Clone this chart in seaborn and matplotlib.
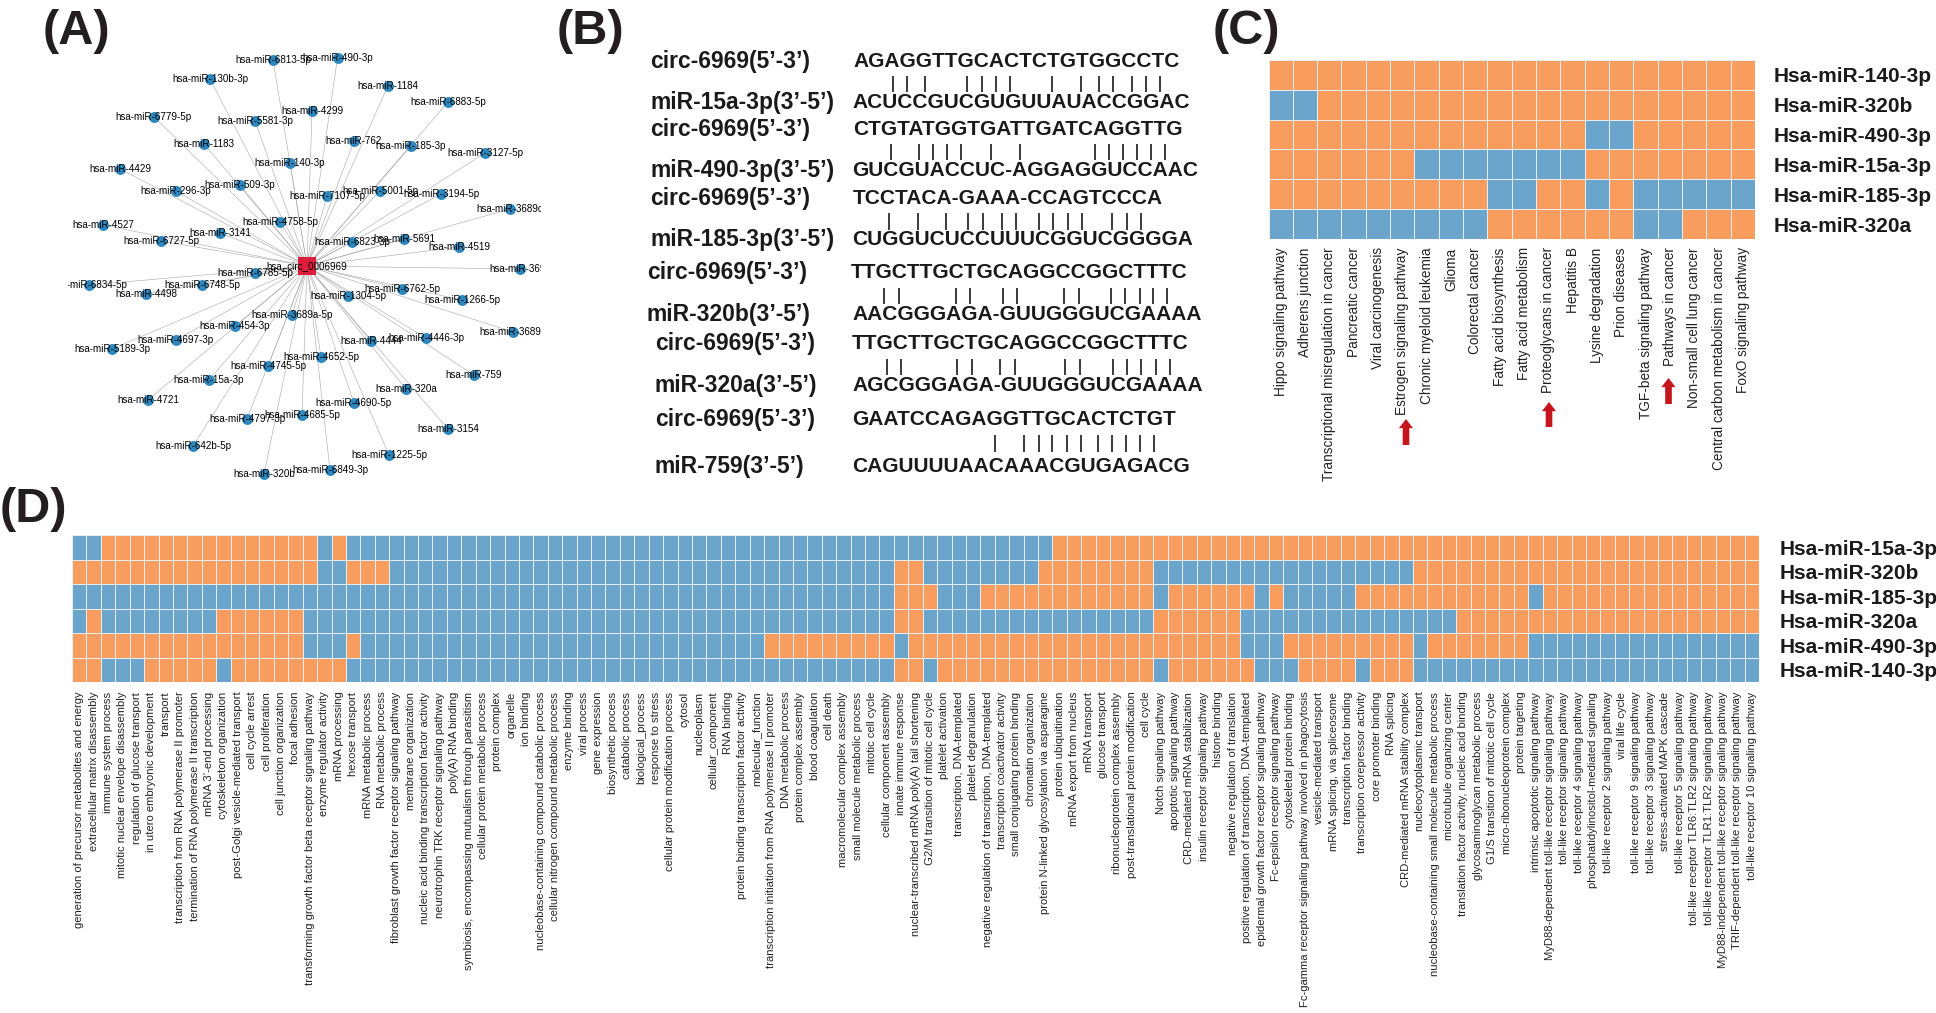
import matplotlib
matplotlib.use('Agg')
import matplotlib.pyplot as plt
from matplotlib.colors import ListedColormap
import numpy as np
import pandas as pd
import seaborn as sns

# figure size in pixels, all panel positions below are in these pixels
W, H = 1936, 1013

ORANGE = '#F99D5F'
BLUE = '#6CA5CC'
NODE_BLUE = '#2E88BE'
CIRC_RED = '#DC1E3C'
ARROW_RED = '#C4161C'

# ---- panel A, network
circ_name = 'hsa_circ_0006969'
circ_pos = (307, 266)
mirna_names = [
    'hsa-miR-6813-5p', 'hsa-miR-490-3p', 'hsa-miR-130b-3p', 'hsa-miR-1184', 'hsa-miR-6883-5p',
    'hsa-miR-6779-5p', 'hsa-miR-5581-3p', 'hsa-miR-4299', 'hsa-miR-1183', 'hsa-miR-762',
    'hsa-miR-185-3p', 'hsa-miR-3127-5p', 'hsa-miR-4429', 'hsa-miR-140-3p', 'hsa-miR-296-3p',
    'hsa-miR-509-3p', 'hsa-miR-7107-5p', 'hsa-miR-5001-5p', 'hsa-miR-3194-5p', 'hsa-miR-3689c',
    'hsa-miR-4527', 'hsa-miR-4758-5p', 'hsa-miR-3141', 'hsa-miR-6727-5p', 'hsa-miR-6823-3p',
    'hsa-miR-5691', 'hsa-miR-4519', 'hsa-miR-3692', 'hsa-miR-6785-5p', 'hsa-miR-6834-5p',
    'hsa-miR-6748-5p', 'hsa-miR-4498', 'hsa-miR-6762-5p', 'hsa-miR-1304-5p', 'hsa-miR-1266-5p',
    'hsa-miR-3689a-5p', 'hsa-miR-454-3p', 'hsa-miR-3689b', 'hsa-miR-4697-3p', 'hsa-miR-5189-3p',
    'hsa-miR-4444', 'hsa-miR-4446-3p', 'hsa-miR-4652-5p', 'hsa-miR-4745-5p', 'hsa-miR-759',
    'hsa-miR-15a-3p', 'hsa-miR-320a', 'hsa-miR-4721', 'hsa-miR-4690-5p', 'hsa-miR-4685-5p',
    'hsa-miR-4797-3p', 'hsa-miR-3154', 'hsa-miR-642b-5p', 'hsa-miR-1225-5p', 'hsa-miR-320b',
    'hsa-miR-6849-3p',
]
mirna_x = [
    273, 337.5, 210, 388, 448, 154, 255, 312, 204, 354, 411, 485, 120, 290, 176, 240, 327, 380, 441,
    510, 103, 280, 220, 161, 352, 404, 459, 520, 255, 89, 202, 146, 402, 348, 462, 292, 235, 513,
    176, 112, 371, 426, 321, 268, 474, 209, 406, 148, 354, 302, 247, 448, 193, 389, 264, 330,
]
mirna_y = [
    60, 58, 79, 86, 102, 117, 121, 111, 144, 141, 146, 153, 169, 163, 191, 185, 196, 191, 194,
    209, 225, 222, 233, 241, 242, 239, 247, 269, 273, 285, 285, 294, 289, 296, 300, 315, 326, 332,
    340, 349, 341, 338, 357, 366, 375, 380, 389, 400, 403, 415, 419, 429, 446, 455, 474, 470,
]

# ---- panel B, sequence pairs
pair_labels = [
    'circ-6969(5’-3’)', 'miR-15a-3p(3’-5’)', 'circ-6969(5’-3’)', 'miR-490-3p(3’-5’)',
    'circ-6969(5’-3’)', 'miR-185-3p(3’-5’)', 'circ-6969(5’-3’)', 'miR-320b(3’-5’)',
    'circ-6969(5’-3’)', 'miR-320a(3’-5’)', 'circ-6969(5’-3’)', 'miR-759(3’-5’)',
]
pair_seqs = [
    'AGAGGTTGCACTCTGTGGCCTC', 'ACUCCGUCGUGUUAUACCGGAC',
    'CTGTATGGTGATTGATCAGGTTG', 'GUCGUACCUC-AGGAGGUCCAAC',
    'TCCTACA-GAAA-CCAGTCCCA', 'CUGGUCUCCUUUCGGUCGGGGA',
    'TTGCTTGCTGCAGGCCGGCTTTC', 'AACGGGAGA-GUUGGGUCGAAAA',
    'TTGCTTGCTGCAGGCCGGCTTTC', 'AGCGGGAGA-GUUGGGUCGAAAA',
    'GAATCCAGAGGTTGCACTCTGT', 'CAGUUUUAACAAACGUGAGACG',
]
pair_y = [61, 102, 129, 170, 198, 239, 272, 314, 343, 385, 419, 466]
pair_label_x = [650, 650, 650, 650, 650, 650, 647, 647, 655, 655, 655, 655]
pair_seq_x = [853, 852, 853, 852, 853, 852, 851, 852, 852, 852, 852, 852]
bond_spans = [(76, 92), (144, 160), (213, 230), (288, 304), (359, 375), (435, 452)]
bond_x = [
    [893, 907, 925, 967, 982, 996, 1010, 1052, 1081, 1099, 1113, 1132, 1146, 1160],
    [891, 919, 933, 947, 961, 991, 1020, 1095, 1109, 1123, 1137, 1151, 1165],
    [889, 918, 946, 968, 983, 1002, 1016, 1039, 1053, 1068, 1082, 1112, 1127, 1141],
    [884, 899, 956, 970, 1003, 1017, 1064, 1079, 1111, 1125, 1140, 1153, 1167],
    [887, 901, 957, 972, 1000, 1015, 1065, 1080, 1113, 1127, 1141, 1156, 1170],
    [995, 1024, 1039, 1052, 1067, 1081, 1098, 1112, 1126, 1140, 1154],
]

# ---- panel C, KEGG heatmap
kegg_rows = ['Hsa-miR-140-3p', 'Hsa-miR-320b', 'Hsa-miR-490-3p', 'Hsa-miR-15a-3p', 'Hsa-miR-185-3p', 'Hsa-miR-320a']
kegg_terms = [
    'Hippo signaling pathway', 'Adherens junction', 'Transcriptional misregulation in cancer',
    'Pancreatic cancer', 'Viral carcinogenesis', 'Estrogen signaling pathway',
    'Chronic myeloid leukemia', 'Glioma', 'Colorectal cancer', 'Fatty acid biosynthesis',
    'Fatty acid metabolism', 'Proteoglycans in cancer', 'Hepatitis B', 'Lysine degradation',
    'Prion diseases', 'TGF-beta signaling pathway', 'Pathways in cancer',
    'Non-small cell lung cancer', 'Central carbon metabolism in cancer', 'FoxO signaling pathway',
]
# blue cells per row, as inclusive 1-based column runs
kegg_blue = [
    [],
    [(1, 2)],
    [(14, 15)],
    [(7, 13)],
    [(10, 11), (14, 14), (16, 20)],
    [(1, 9), (16, 17)],
]
# arrows next to the cancer related terms: x, tail y, tip y
kegg_arrow_x = [1406, 1549, 1668.5]
kegg_arrow_tail = [445, 427, 404]
kegg_arrow_tip = [419, 402, 378]

# ---- panel D, GO heatmap
go_rows = ['Hsa-miR-15a-3p', 'Hsa-miR-320b', 'Hsa-miR-185-3p', 'Hsa-miR-320a', 'Hsa-miR-490-3p', 'Hsa-miR-140-3p']
go_terms = [
    'generation of precursor metabolites and energy', 'extracellular matrix disassembly',
    'immune system process', 'mitotic nuclear envelope disassembly', 'regulation of glucose transport',
    'in utero embryonic development', 'transport', 'transcription from RNA polymerase II promoter',
    'termination of RNA polymerase II transcription', 'mRNA 3’-end processing', 'cytoskeleton organization',
    'post-Golgi vesicle-mediated transport', 'cell cycle arrest', 'cell proliferation',
    'cell junction organization', 'focal adhesion',
    'transforming growth factor beta receptor signaling pathway', 'enzyme regulator activity',
    'mRNA processing', 'hexose transport', 'mRNA metabolic process', 'RNA metabolic process',
    'fibroblast growth factor receptor signaling pathway', 'membrane organization',
    'nucleic acid binding transcription factor activity', 'neurotrophin TRK receptor signaling pathway',
    'poly(A) RNA binding', 'symbiosis, encompassing mutualism through parasitism',
    'cellular protein metabolic process', 'protein complex', 'organelle', 'ion binding',
    'nucleobase-containing compound catabolic process', 'cellular nitrogen compound metabolic process',
    'enzyme binding', 'viral process', 'gene expression', 'biosynthetic process', 'catabolic process',
    'biological_process', 'response to stress', 'cellular protein modification process', 'cytosol',
    'nucleoplasm', 'cellular_component', 'RNA binding', 'protein binding transcription factor activity',
    'molecular_function', 'transcription initiation from RNA polymerase II promoter',
    'DNA metabolic process', 'protein complex assembly', 'blood coagulation', 'cell death',
    'macromolecular complex assembly', 'small molecule metabolic process', 'mitotic cell cycle',
    'cellular component assembly', 'innate immune response',
    'nuclear-transcribed mRNA poly(A) tail shortening', 'G2/M transition of mitotic cell cycle',
    'platelet activation', 'transcription, DNA-templated', 'platelet degranulation',
    'negative regulation of transcription, DNA-templated', 'transcription coactivator activity',
    'small conjugating protein binding', 'chromatin organization',
    'protein N-linked glycosylation via asparagine', 'protein ubiquitination', 'mRNA export from nucleus',
    'mRNA transport', 'glucose transport', 'ribonucleoprotein complex assembly',
    'post-translational protein modification', 'cell cycle', 'Notch signaling pathway',
    'apoptotic signaling pathway', 'CRD-mediated mRNA stabilization', 'insulin receptor signaling pathway',
    'histone binding', 'negative regulation of translation',
    'positive regulation of transcription, DNA-templated',
    'epidermal growth factor receptor signaling pathway', 'Fc-epsilon receptor signaling pathway',
    'cytoskeletal protein binding', 'Fc-gamma receptor signaling pathway involved in phagocytosis',
    'vesicle-mediated transport', 'mRNA splicing, via spliceosome', 'transcription factor binding',
    'transcription corepressor activity', 'core promoter binding', 'RNA splicing',
    'CRD-mediated mRNA stability complex', 'nucleocytoplasmic transport',
    'nucleobase-containing small molecule metabolic process', 'microtubule organizing center',
    'translation factor activity, nucleic acid binding', 'glycosaminoglycan metabolic process',
    'G1/S transition of mitotic cell cycle', 'micro-ribonucleoprotein complex', 'protein targeting',
    'intrinsic apoptotic signaling pathway', 'MyD88-dependent toll-like receptor signaling pathway',
    'toll-like receptor signaling pathway', 'toll-like receptor 4 signaling pathway',
    'phosphatidylinositol-mediated signaling', 'toll-like receptor 2 signaling pathway', 'viral life cycle',
    'toll-like receptor 9 signaling pathway', 'toll-like receptor 3 signaling pathway',
    'stress-activated MAPK cascade', 'toll-like receptor 5 signaling pathway',
    'toll-like receptor TLR6:TLR2 signaling pathway', 'toll-like receptor TLR1:TLR2 signaling pathway',
    'MyD88-independent toll-like receptor signaling pathway',
    'TRIF-dependent toll-like receptor signaling pathway', 'toll-like receptor 10 signaling pathway',
]
# orange cells per row, as inclusive 1-based column runs
go_orange = [
    [(3, 17), (19, 19), (69, 117)],
    [(1, 17), (20, 22), (58, 59), (68, 75), (94, 117)],
    [(58, 60), (64, 75), (77, 82), (84, 84), (90, 101), (103, 117)],
    [(2, 2), (11, 16), (58, 59), (76, 81), (97, 117)],
    [(1, 16), (20, 20), (49, 57), (59, 81), (85, 93), (95, 101)],
    [(1, 2), (6, 10), (12, 19), (58, 59), (61, 75), (77, 82), (86, 89), (91, 93)],
]

panel_letters = ['(A)', '(B)', '(C)', '(D)']
panel_letter_x = [43, 557, 1213, 0]
panel_letter_y = [31, 31, 31, 509]


def axes_at(fig, x0, y0, x1, y1):
    """Add axes from a box given in picture pixels."""
    return fig.add_axes([x0 / W, 1 - y1 / H, (x1 - x0) / W, (y1 - y0) / H])


def runs_to_cells(runs, n_cols, inside):
    """Turn a list of (first, last) column runs into one heatmap row."""
    row = [1 - inside] * n_cols
    for first, last in runs:
        for col in range(first - 1, last):
            row[col] = inside
    return row


def draw_heatmap(ax, cells, terms, rows, term_size, row_pad, term_pad):
    cmap = ListedColormap([BLUE, ORANGE])
    sns.heatmap(cells, ax=ax, cmap=cmap, vmin=0, vmax=1, cbar=False, linewidths=0.5,
                linecolor='#E6EEF3', xticklabels=terms, yticklabels=rows)
    ax.yaxis.tick_right()
    ax.tick_params(axis='x', length=0, pad=term_pad, labelsize=term_size, labelrotation=90, colors='#222222')
    ax.tick_params(axis='y', length=0, pad=row_pad, labelrotation=0)
    for label in ax.get_yticklabels():
        label.set_fontsize(15)
        label.set_fontweight('bold')
        label.set_color('#1a1a1a')


def draw_network(ax):
    edge_rows = []
    for name, x, y in zip(mirna_names, mirna_x, mirna_y):
        edge_rows.append({'edge': name, 'x': circ_pos[0], 'y': circ_pos[1]})
        edge_rows.append({'edge': name, 'x': x, 'y': y})
    edges = pd.DataFrame(edge_rows)
    sns.lineplot(data=edges, x='x', y='y', units='edge', estimator=None, sort=False, ax=ax,
                 color='#a6a6a6', linewidth=0.4, legend=False)
    nodes = pd.DataFrame({'name': mirna_names, 'x': mirna_x, 'y': mirna_y})
    sns.scatterplot(data=nodes, x='x', y='y', ax=ax, color=NODE_BLUE, s=62, linewidth=0, zorder=3)
    ax.scatter([circ_pos[0]], [circ_pos[1]], marker='s', s=150, color=CIRC_RED, zorder=4, linewidth=0)
    for name, x, y in zip(mirna_names, mirna_x, mirna_y):
        ax.text(x, y, name, fontsize=7.1, ha='center', va='center', color='black', zorder=5, clip_on=True)
    ax.text(circ_pos[0], circ_pos[1], circ_name, fontsize=7.1, ha='center', va='center', color='black', zorder=5)
    ax.set_xlim(68, 541)
    ax.set_ylim(500, 0)
    ax.axis('off')


def draw_pairs(ax):
    for label, x, y in zip(pair_labels, pair_label_x, pair_y):
        ax.text(x, y, label, fontsize=16.5, fontweight='bold', ha='left', va='center', color='#1a1a1a')
    for seq, x, y in zip(pair_seqs, pair_seq_x, pair_y):
        ax.text(x, y, seq, fontsize=15, fontweight='bold', ha='left', va='center', color='#1a1a1a')
    for span, xs in zip(bond_spans, bond_x):
        ax.vlines(xs, span[0], span[1], color='#1a1a1a', linewidth=1.2)


def main():
    sns.set_theme(style='white')
    plt.rcParams['font.family'] = ['Liberation Sans', 'DejaVu Sans']

    fig = plt.figure(figsize=(W / 100, H / 100), dpi=100, facecolor='white')

    draw_network(axes_at(fig, 68, 0, 541, 500))

    kegg_cells = pd.DataFrame(
        [runs_to_cells(runs, len(kegg_terms), 0) for runs in kegg_blue],
        index=kegg_rows, columns=kegg_terms)
    draw_heatmap(axes_at(fig, 1268.5, 60, 1755, 239), kegg_cells, kegg_terms, kegg_rows, 9.8, 13.5, 6)

    go_cells = pd.DataFrame(
        [runs_to_cells(runs, len(go_terms), 1) for runs in go_orange],
        index=go_rows, columns=go_terms)
    draw_heatmap(axes_at(fig, 72, 535, 1759, 682), go_cells, go_terms, go_rows, 8.1, 15, 7)

    # overlay in picture pixels for panel B, the letters and the arrows
    overlay = axes_at(fig, 0, 0, W, H)
    overlay.set_xlim(0, W)
    overlay.set_ylim(H, 0)
    overlay.axis('off')
    overlay.patch.set_alpha(0)

    draw_pairs(overlay)

    for x, tail, tip in zip(kegg_arrow_x, kegg_arrow_tail, kegg_arrow_tip):
        overlay.annotate('', xy=(x, tip), xytext=(x, tail),
                         arrowprops=dict(arrowstyle='simple,head_length=0.55,head_width=0.85,tail_width=0.4',
                                         color=ARROW_RED, shrinkA=0, shrinkB=0, linewidth=0))

    for letter, x, y in zip(panel_letters, panel_letter_x, panel_letter_y):
        overlay.text(x, y, letter, fontsize=35, fontweight='bold', ha='left', va='center', color='#231f20')

    fig.savefig('out.png', dpi=100, facecolor='white')


main()
